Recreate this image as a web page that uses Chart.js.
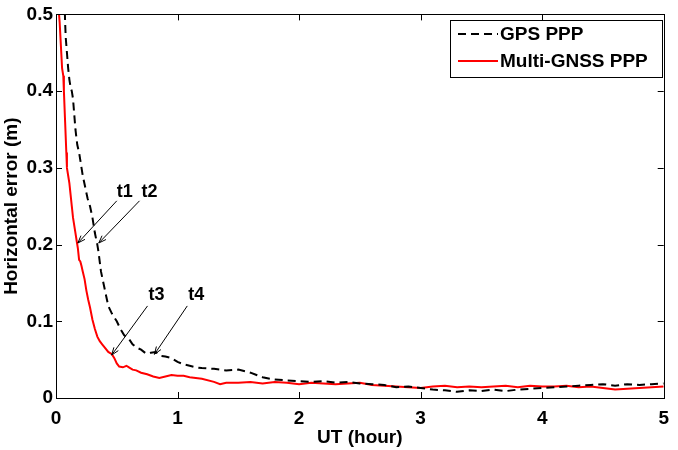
<!DOCTYPE html>
<html>
<head>
<meta charset="utf-8">
<script src="https://cdn.jsdelivr.net/npm/chart.js@4"></script>
<style>
  html, body { margin: 0; padding: 0; background: #fff; }
  #wrap { width: 678px; height: 450px; }
</style>
</head>
<body>
<div id="wrap"><canvas id="errChart" width="678" height="450"></canvas></div>
<script>
// GPS PPP (black dashed)
const gpsTime = [0.07, 0.075, 0.08, 0.09, 0.10, 0.11, 0.12, 0.13, 0.14, 0.15, 0.16, 0.175, 0.19, 0.20, 0.21, 0.22, 0.24, 0.26, 0.28, 0.30,
  0.32, 0.34, 0.35, 0.37, 0.39, 0.41, 0.43, 0.46, 0.50, 0.53, 0.56, 0.60, 0.63, 0.66, 0.70, 0.74, 0.78, 0.82, 0.86, 0.90,
  0.95, 1.0, 1.05, 1.1, 1.15, 1.2, 1.3, 1.4, 1.5, 1.6, 1.65, 1.7, 1.8, 1.9, 2.0, 2.1, 2.2, 2.3, 2.4, 2.5,
  2.6, 2.7, 2.8, 2.9, 3.0, 3.1, 3.2, 3.3, 3.4, 3.5, 3.6, 3.7, 3.8, 3.9, 4.0, 4.1, 4.2, 4.3, 4.4, 4.5,
  4.6, 4.7, 4.8, 4.9, 5.0];
const gpsError = [0.52, 0.49, 0.47, 0.45, 0.43, 0.415, 0.405, 0.40, 0.39, 0.37, 0.35, 0.33, 0.32, 0.31, 0.30, 0.29, 0.275, 0.26, 0.25, 0.235,
  0.215, 0.20, 0.19, 0.165, 0.15, 0.135, 0.12, 0.11, 0.10, 0.09, 0.082, 0.077, 0.070, 0.066, 0.063, 0.058, 0.059, 0.060, 0.055, 0.054,
  0.052, 0.047, 0.044, 0.042, 0.040, 0.039, 0.038, 0.036, 0.037, 0.033, 0.030, 0.027, 0.024, 0.023, 0.022, 0.021, 0.022, 0.020, 0.021, 0.019,
  0.018, 0.017, 0.014, 0.015, 0.013, 0.011, 0.010, 0.008, 0.010, 0.009, 0.011, 0.009, 0.011, 0.012, 0.013, 0.014, 0.015, 0.016, 0.017, 0.018,
  0.016, 0.018, 0.017, 0.018, 0.019];

// Multi-GNSS PPP (red)
const gnssTime = [0.015, 0.03, 0.04, 0.05, 0.06, 0.065, 0.075, 0.085, 0.09, 0.10, 0.11, 0.12, 0.13, 0.14, 0.155, 0.17, 0.18, 0.19, 0.20, 0.21,
  0.22, 0.235, 0.25, 0.265, 0.28, 0.30, 0.32, 0.34, 0.36, 0.38, 0.40, 0.43, 0.46, 0.48, 0.50, 0.52, 0.55, 0.58, 0.60, 0.63,
  0.66, 0.70, 0.75, 0.80, 0.85, 0.90, 0.95, 1.0, 1.05, 1.1, 1.15, 1.2, 1.3, 1.35, 1.4, 1.5, 1.6, 1.7, 1.8, 1.9,
  2.0, 2.1, 2.2, 2.3, 2.4, 2.5, 2.6, 2.7, 2.8, 2.9, 3.0, 3.1, 3.2, 3.3, 3.4, 3.5, 3.6, 3.7, 3.8, 3.9,
  4.0, 4.1, 4.2, 4.3, 4.4, 4.5, 4.6, 4.7, 4.8, 4.9, 5.0];
const gnssError = [0.52, 0.49, 0.46, 0.43, 0.42, 0.40, 0.36, 0.32, 0.30, 0.29, 0.28, 0.265, 0.25, 0.235, 0.22, 0.205, 0.195, 0.18, 0.178, 0.172,
  0.165, 0.155, 0.14, 0.128, 0.118, 0.102, 0.09, 0.08, 0.074, 0.07, 0.066, 0.06, 0.057, 0.052, 0.045, 0.041, 0.040, 0.042, 0.040, 0.037,
  0.036, 0.033, 0.031, 0.028, 0.026, 0.028, 0.030, 0.029, 0.029, 0.027, 0.026, 0.025, 0.021, 0.018, 0.020, 0.020, 0.021, 0.019, 0.021, 0.020,
  0.018, 0.020, 0.019, 0.018, 0.019, 0.020, 0.017, 0.016, 0.015, 0.014, 0.013, 0.015, 0.016, 0.014, 0.015, 0.014, 0.015, 0.016, 0.014, 0.016,
  0.015, 0.015, 0.016, 0.014, 0.015, 0.013, 0.011, 0.012, 0.013, 0.014, 0.015];

const xTicks = [0, 1, 2, 3, 4, 5];
const yTicks = [0, 0.1, 0.2, 0.3, 0.4, 0.5];

// arrow annotations (data units)
const noteLabels = ['t1', 't2', 't3', 't4'];
const noteTipX = [0.18, 0.352, 0.458, 0.81];
const noteTipY = [0.202, 0.202, 0.056, 0.057];
const noteTailX = [0.50, 0.687, 0.753, 1.08];
const noteTailY = [0.257, 0.257, 0.12, 0.12];
const noteTextX = [0.565, 0.77, 0.827, 1.154];
const noteTextY = [0.268, 0.268, 0.134, 0.134];

const FONT = 'Liberation Sans, Arial, Helvetica, sans-serif';

function toPoints(xs, ys) {
    return xs.map((x, i) => ({ x: x, y: ys[i] }));
}

// Box, inward ticks, legend and arrows
const framePlugin = {
    id: 'frame',
    afterDatasetsDraw(chart) {
        const ctx = chart.ctx;
        const area = chart.chartArea;
        const xs = chart.scales.x;
        const ys = chart.scales.y;
        ctx.save();
        ctx.strokeStyle = '#000';
        ctx.lineWidth = 1;
        ctx.setLineDash([]);
        ctx.strokeRect(Math.round(area.left) + 0.5, Math.round(area.top) + 0.5,
            Math.round(area.right - area.left), Math.round(area.bottom - area.top));

        const tl = 6;
        ctx.beginPath();
        xTicks.forEach(v => {
            const px = Math.round(xs.getPixelForValue(v)) + 0.5;
            ctx.moveTo(px, area.bottom); ctx.lineTo(px, area.bottom - tl);
            ctx.moveTo(px, area.top); ctx.lineTo(px, area.top + tl);
        });
        yTicks.forEach(v => {
            const py = Math.round(ys.getPixelForValue(v)) + 0.5;
            ctx.moveTo(area.left, py); ctx.lineTo(area.left + tl, py);
            ctx.moveTo(area.right, py); ctx.lineTo(area.right - tl, py);
        });
        ctx.stroke();

        // arrows
        ctx.font = 'bold 18px ' + FONT;
        ctx.fillStyle = '#000';
        ctx.textAlign = 'center';
        ctx.textBaseline = 'middle';
        noteLabels.forEach((lab, i) => {
            const x1 = xs.getPixelForValue(noteTailX[i]);
            const y1 = ys.getPixelForValue(noteTailY[i]);
            const x2 = xs.getPixelForValue(noteTipX[i]);
            const y2 = ys.getPixelForValue(noteTipY[i]);
            ctx.beginPath();
            ctx.moveTo(x1, y1); ctx.lineTo(x2, y2);
            const ang = Math.atan2(y2 - y1, x2 - x1);
            const hl = 8;
            ctx.moveTo(x2, y2);
            ctx.lineTo(x2 - hl * Math.cos(ang - 0.35), y2 - hl * Math.sin(ang - 0.35));
            ctx.moveTo(x2, y2);
            ctx.lineTo(x2 - hl * Math.cos(ang + 0.35), y2 - hl * Math.sin(ang + 0.35));
            ctx.stroke();
            ctx.fillText(lab, xs.getPixelForValue(noteTextX[i]), ys.getPixelForValue(noteTextY[i]));
        });

        // legend
        const lx = 450, ly = 20, lw = 212, lh = 57;
        ctx.fillStyle = '#fff';
        ctx.fillRect(lx, ly, lw, lh);
        ctx.strokeRect(lx + 0.5, ly + 0.5, lw, lh);
        ctx.font = 'bold 19px ' + FONT;
        ctx.textAlign = 'left';
        chart.data.datasets.forEach((ds, i) => {
            const y = ly + 14 + i * 27;
            ctx.strokeStyle = ds.borderColor;
            ctx.lineWidth = ds.borderWidth;
            ctx.setLineDash(ds.borderDash || []);
            ctx.beginPath();
            ctx.moveTo(lx + 8, y); ctx.lineTo(lx + 48, y);
            ctx.stroke();
            ctx.fillStyle = '#000';
            ctx.fillText(ds.label, lx + 50, y + 1);
        });
        ctx.restore();
    }
};

const chart = new Chart(document.getElementById('errChart'), {
    type: 'line',
    data: {
        datasets: [
            {
                label: 'GPS PPP',
                data: toPoints(gpsTime, gpsError),
                borderColor: '#000000',
                borderWidth: 2,
                borderDash: [8, 5],
                pointRadius: 0,
                tension: 0
            },
            {
                label: 'Multi-GNSS PPP',
                data: toPoints(gnssTime, gnssError),
                borderColor: '#ff0000',
                borderWidth: 2,
                pointRadius: 0,
                tension: 0
            }
        ]
    },
    options: {
        responsive: false,
        animation: false,
        layout: { padding: { top: 13, right: 7, bottom: 1, left: 0 } },
        plugins: {
            legend: { display: false },
            tooltip: { enabled: false }
        },
        scales: {
            x: {
                type: 'linear',
                min: 0,
                max: 5,
                afterFit: s => { s.height = 51; },
                afterBuildTicks: s => { s.ticks = xTicks.map(v => ({ value: v })); },
                grid: { display: false, drawTicks: false },
                border: { display: false },
                ticks: {
                    color: '#000',
                    padding: 9,
                    maxRotation: 0,
                    font: { family: FONT, size: 19, weight: 'bold' },
                    callback: v => String(v)
                },
                title: {
                    display: true,
                    text: 'UT (hour)',
                    color: '#000',
                    padding: 0,
                    font: { family: FONT, size: 19, weight: 'bold' }
                }
            },
            y: {
                min: 0,
                max: 0.5,
                afterFit: s => { s.width = 56; },
                afterBuildTicks: s => { s.ticks = yTicks.map(v => ({ value: v })); },
                grid: { display: false, drawTicks: false },
                border: { display: false },
                ticks: {
                    color: '#000',
                    padding: 3,
                    font: { family: FONT, size: 19, weight: 'bold' },
                    callback: v => String(Math.round(v * 10) / 10)
                },
                title: {
                    display: true,
                    text: 'Horizontal error (m)',
                    color: '#000',
                    padding: 0,
                    font: { family: FONT, size: 19, weight: 'bold' }
                }
            }
        }
    },
    plugins: [framePlugin]
});
</script>
</body>
</html>
